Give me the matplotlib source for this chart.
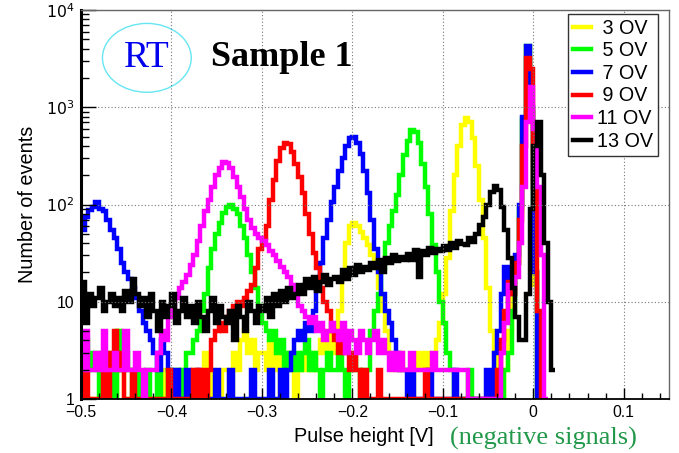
import numpy as np
import matplotlib
matplotlib.use('Agg')
import matplotlib.pyplot as plt
from matplotlib.patches import Ellipse
from matplotlib.ticker import MultipleLocator, FixedLocator, FuncFormatter, NullFormatter

plt.rcParams['font.family'] = ['Liberation Sans', 'DejaVu Sans']

# histogram binning (pulse height in V), every series starts at X_MIN
X_MIN = -0.5
BIN_W = 0.004

labels = [' 3 OV', ' 5 OV', ' 7 OV', ' 9 OV', '11 OV', '13 OV']
colors = ['#ffff00', '#00ff00', '#0000ff', '#ff0000', '#ff00ff', '#000000']

# counts per bin, 10 bins (0.04 V) per row
ov3 = [1, 1, 1, 1, 1, 1, 1, 1, 2, 1,
       5, 2, 1, 1, 1, 2, 1, 1, 1, 1,
       1, 1, 2, 1, 1, 1, 1, 2, 1, 1,
       1, 2, 1, 1, 3, 1, 2, 1, 1, 2,
       2, 1, 3, 2, 4, 5, 3, 4, 2, 3,
       3, 2, 4, 2, 3, 1, 2, 3, 2, 1,
       2, 3, 2, 3, 2, 3, 4, 3, 5, 3,
       5, 8, 18, 40, 60, 65, 60, 52, 45, 38,
       30, 22, 14, 8, 5, 3, 2, 2, 3, 2,
       2, 1, 2, 3, 2, 3, 2, 3, 4, 6,
       12, 28, 85, 200, 400, 650, 780, 700, 480, 250,
       110, 45, 14, 5, 3, 2, 1, 2, 5, 12,
       25, 80, 700, 4200, 900, 15, 1]

ov5 = [3, 4, 3, 2, 3, 1, 2, 3, 2, 1,
       5, 2, 3, 2, 1, 2, 1, 1, 2, 1,
       1, 2, 1, 1, 2, 1, 2, 1, 2, 3,
       3, 4, 5, 8, 12, 22, 35, 50, 65, 82,
       95, 100, 90, 80, 60, 45, 30, 20, 14, 9,
       6, 5, 4, 5, 3, 4, 2, 3, 2, 3,
       2, 3, 4, 2, 3, 2, 1, 2, 3, 2,
       2, 3, 2, 1, 2, 3, 2, 1, 2, 2,
       5, 8, 12, 22, 40, 60, 85, 125, 200, 320,
       450, 580, 560, 430, 260, 150, 80, 38, 20, 10,
       6, 3, 2, 1, 1, 1, 1, 2, 1, 1,
       1, 1, 1, 1, 2, 1, 1, 2, 3, 8,
       25, 90, 750, 4300, 900, 20, 1]

ov7 = [55, 75, 88, 95, 105, 90, 85, 70, 55, 45,
       35, 25, 20, 17, 14, 11, 8, 6, 5, 4,
       3, 2, 4, 3, 2, 1, 2, 1, 1, 2,
       1, 1, 2, 1, 1, 1, 1, 2, 1, 1,
       1, 2, 1, 1, 1, 1, 1, 2, 1, 1,
       1, 1, 2, 1, 1, 2, 1, 2, 3, 4,
       5, 4, 6, 5, 8, 14, 25, 45, 70, 105,
       150, 220, 300, 400, 480, 500, 430, 330, 220, 130,
       70, 35, 20, 12, 8, 6, 4, 3, 2, 2,
       1, 2, 1, 1, 1, 1, 2, 1, 1, 1,
       1, 1, 1, 2, 1, 1, 1, 1, 1, 1,
       1, 1, 2, 1, 3, 5, 12, 23, 15, 12,
       30, 100, 800, 4300, 1000, 20, 1]

ov9 = [1, 2, 1, 1, 1, 1, 2, 1, 3, 5,
       3, 2, 1, 1, 2, 1, 1, 1, 1, 1,
       1, 1, 1, 1, 2, 1, 1, 1, 1, 1,
       1, 2, 1, 2, 1, 2, 4, 5, 6, 5,
       7, 8, 9, 10, 9, 11, 13, 15, 22, 35,
       45, 60, 110, 180, 280, 380, 430, 420, 350, 260,
       190, 130, 80, 50, 32, 22, 14, 10, 8, 5,
       4, 3, 5, 3, 2, 3, 2, 1, 2, 1,
       1, 1, 2, 1, 1, 1, 1, 1, 1, 1,
       1, 1, 1, 1, 1, 2, 1, 1, 1, 1,
       1, 1, 1, 1, 1, 1, 1, 1, 1, 1,
       1, 1, 1, 1, 1, 2, 4, 8, 16, 12,
       25, 70, 400, 3200, 2500, 150, 8, 1]

ov11 = [2, 5, 2, 2, 3, 2, 5, 2, 2, 3,
        2, 2, 5, 2, 2, 3, 2, 1, 2, 2,
        2, 3, 5, 4, 7, 9, 11, 14, 16, 19,
        24, 30, 42, 60, 85, 110, 150, 200, 240, 275,
        265, 240, 190, 150, 120, 90, 70, 58, 50, 45,
        42, 38, 33, 30, 26, 23, 20, 18, 15, 12,
        9, 8, 7, 6, 7, 5, 6, 4, 5, 6,
        5, 4, 6, 3, 5, 4, 3, 5, 4, 3,
        4, 5, 3, 4, 3, 2, 3, 2, 3, 2,
        2, 3, 2, 2, 2, 2, 2, 3, 2, 2,
        2, 2, 2, 2, 2, 2, 2, 1, 1, 1,
        1, 1, 1, 1, 1, 1, 3, 6, 15, 14,
        18, 40, 150, 700, 1600, 600, 150, 30, 1]

ov13 = [16, 6, 12, 9, 11, 14, 8, 10, 12, 9,
        11, 8, 13, 10, 17, 12, 9, 11, 7, 12,
        8, 5, 10, 7, 9, 12, 6, 8, 11, 7,
        9, 6, 10, 7, 5, 8, 11, 6, 9, 7,
        6, 8, 4, 9, 7, 5, 10, 8, 6, 9,
        8, 11, 7, 12, 9, 13, 10, 14, 11, 12,
        15, 12, 17, 14, 18, 13, 16, 19, 15, 17,
        18, 16, 21, 17, 22, 19, 24, 20, 23, 21,
        25, 22, 27, 20, 28, 25, 30, 26, 29, 27,
        31, 27, 34, 18, 33, 30, 36, 32, 35, 33,
        37, 34, 40, 36, 42, 39, 38, 45, 41, 50,
        62, 75, 100, 135, 155, 140, 95, 55, 28, 14,
        7, 4, 4, 12, 90, 400, 700, 200, 40, 10,
        2]

series = [ov3, ov5, ov7, ov9, ov11, ov13]

fig = plt.figure(figsize=(6.79, 4.53), dpi=100)
ax = fig.add_axes([81 / 679, 54 / 453, 588 / 679, 389 / 453])

for counts, col, lab in zip(series, colors, labels):
    edges = X_MIN + BIN_W * np.arange(len(counts) + 1)
    ax.stairs(counts, edges, baseline=None, color=col, lw=3.2, label=lab)

ax.set_yscale('log')
ax.set_xlim(-0.5, 0.15)
ax.set_ylim(1, 1e4)

ax.xaxis.set_major_locator(MultipleLocator(0.1))
ax.xaxis.set_minor_locator(MultipleLocator(0.02))
ax.xaxis.set_major_formatter(FuncFormatter(
    lambda v, p: '0' if abs(v) < 1e-9 else ('%.1f' % v).replace('-', '\u2212')))
ax.yaxis.set_major_locator(FixedLocator([1, 10, 100, 1000, 10000]))
ax.yaxis.set_major_formatter(FuncFormatter(
    lambda v, p: {1: '1', 10: '10', 100: '$10^2$', 1000: '$10^3$', 10000: '$10^4$'}.get(int(round(v)), '')))
ax.yaxis.set_minor_locator(FixedLocator([m * 10 ** e for e in range(4) for m in range(2, 10)]))
ax.yaxis.set_minor_formatter(NullFormatter())

ax.tick_params(which='both', direction='in', labelsize=11.3, top=False, right=False)
ax.tick_params(axis='y', which='major', length=11, width=1, pad=5)
ax.tick_params(axis='y', which='minor', length=6, width=1)
ax.tick_params(axis='x', which='major', length=8, width=1, pad=4)
ax.tick_params(axis='x', which='minor', length=4, width=1)

ax.grid(True, which='major', color='#777777', linestyle=(0, (1, 2)), lw=0.8)

ax.spines['left'].set_linewidth(2.2)
ax.spines['bottom'].set_linewidth(1.3)
for s in ('top', 'right'):
    ax.spines[s].set_color('#666666')
    ax.spines[s].set_linewidth(1.0)

ax.set_ylabel('Number of events', fontsize=14.3, labelpad=6)
fig.text(364 / 679, 1 - 437 / 453, 'Pulse height [V]', fontsize=14.3, ha='center', va='center')
fig.text(450 / 679, 1 - 438 / 453, '(negative signals)', fontsize=19, ha='left', va='center',
         color='#22994a', family='Liberation Serif')

# RT label in an ellipse, and sample name
ax.add_patch(Ellipse((0.112, 0.877), 0.151, 0.177, transform=ax.transAxes,
                     fill=False, edgecolor='#66e6f2', lw=1.0))
ax.text(0.112, 0.877, 'RT', transform=ax.transAxes, fontsize=27, color='#0000ee',
        family='Liberation Serif', ha='center', va='center')
ax.text(0.221, 0.877, 'Sample 1', transform=ax.transAxes, fontsize=26, fontweight='bold',
        family='Liberation Serif', ha='left', va='center')

leg = ax.legend(loc='upper right', bbox_to_anchor=(0.981, 0.990), borderaxespad=0,
                fontsize=14.2, handlelength=0.9, handletextpad=0.3, labelspacing=0.18,
                borderpad=0.25, fancybox=False, framealpha=1, edgecolor='#333333')
leg.get_frame().set_linewidth(1.0)

fig.savefig('out.png', dpi=100)
